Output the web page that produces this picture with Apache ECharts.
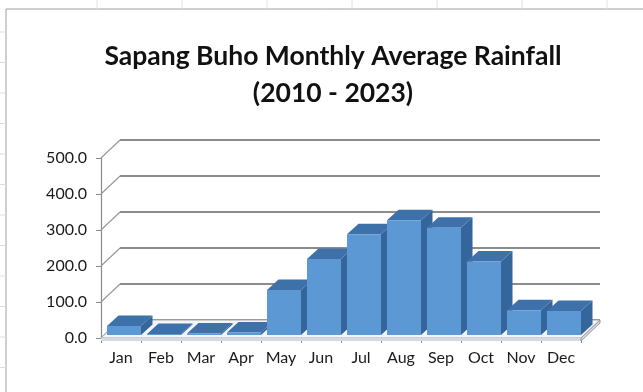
<!DOCTYPE html>
<html>
<head>
<meta charset="utf-8">
<script src="https://cdn.jsdelivr.net/npm/echarts@6.0.0/dist/echarts.min.js"></script>
<style>
  html, body { margin: 0; padding: 0; background: #ffffff; }
  #chart { width: 643px; height: 392px; }
</style>
</head>
<body>
<div id="chart"></div>
<script>
// Monthly average rainfall, Sapang Buho, 2010 - 2023
const months = ['Jan', 'Feb', 'Mar', 'Apr', 'May', 'Jun', 'Jul', 'Aug', 'Sep', 'Oct', 'Nov', 'Dec'];
const rainfall = [25, 3, 4, 7, 125, 211, 280, 319, 298, 204, 69, 67];
const yTicks = [0, 100, 200, 300, 400, 500];
const titleLines = ['Sapang Buho Monthly Average Rainfall', '(2010 - 2023)'];

// oblique projection offsets (pixels)
const WALL = [19, -18];        // front plane -> back wall
const BAR_SET = [3, -3];       // front plane -> front face of the columns
const BAR_DEPTH = [11.5, -10.5];
const SLAB = 3;                // floor thickness

const FONT = 'Lato, "Open Sans", "Liberation Sans", sans-serif';
const AXIS_GRAY = '#8a8a8a';

const chart = echarts.init(document.getElementById('chart'), null, { renderer: 'canvas' });

function renderColumn(params, api) {
  const i = api.value(0);
  const v = api.value(1);
  const base = api.coord([i, 0]);
  const top = api.coord([i, v]);
  const catW = api.size([1, 0])[0];
  const bw = catW * 0.85;
  const x0 = base[0] - bw / 2 + BAR_SET[0];
  const yb = base[1] + BAR_SET[1];
  const yt = top[1] + BAR_SET[1];
  const [dx, dy] = BAR_DEPTH;
  return {
    type: 'group',
    children: [
      {
        type: 'polygon',
        shape: { points: [[x0 + bw, yt], [x0 + bw, yb], [x0 + bw + dx, yb + dy], [x0 + bw + dx, yt + dy]] },
        style: { fill: '#34659b' }
      },
      {
        type: 'polygon',
        shape: { points: [[x0, yt], [x0 + bw, yt], [x0 + bw + dx, yt + dy], [x0 + dx, yt + dy]] },
        style: { fill: '#3e71a9' }
      },
      {
        type: 'rect',
        shape: { x: x0, y: yt, width: bw, height: yb - yt },
        style: { fill: '#5b98d4' }
      }
    ]
  };
}

function renderSideLine(params, api) {
  const p = api.coord([0, api.value(1)]);
  const x = params.coordSys.x;
  return {
    type: 'line',
    shape: { x1: x, y1: p[1], x2: x + WALL[0], y2: p[1] + WALL[1] },
    style: { stroke: '#9a9a9a', lineWidth: 1.2 }
  };
}

function renderFloor(params, api) {
  const cs = params.coordSys;
  const y = api.coord([0, 0])[1];
  const xl = cs.x, xr = cs.x + cs.width;
  const [wx, wy] = WALL;
  return {
    type: 'group',
    children: [
      {
        type: 'polygon',
        shape: { points: [[xl, y], [xr, y], [xr + wx, y + wy], [xl + wx, y + wy]] },
        style: { fill: '#f3f5f8', stroke: '#a9a9a9', lineWidth: 1 }
      },
      {
        type: 'rect',
        shape: { x: xl, y: y, width: xr - xl, height: SLAB },
        style: { fill: '#d3dce6' }
      },
      {
        type: 'polygon',
        shape: { points: [[xr, y], [xr + wx, y + wy], [xr + wx, y + wy + SLAB], [xr, y + SLAB]] },
        style: { fill: '#d3dce6', stroke: '#9a9a9a', lineWidth: 1 }
      }
    ]
  };
}

// faint worksheet cell lines around the chart frame
const sheetMarks = [];
for (let y = 32; y < 392; y += 30.5) {
  sheetMarks.push({ type: 'line', shape: { x1: 0, y1: y, x2: 6, y2: y }, style: { stroke: '#dcdcdc', lineWidth: 1 }, silent: true });
}
for (let x = 97; x < 643; x += 85) {
  sheetMarks.push({ type: 'line', shape: { x1: x, y1: 0, x2: x, y2: 9 }, style: { stroke: '#e2e2e2', lineWidth: 1 }, silent: true });
}

const option = {
  animation: false,
  backgroundColor: '#ffffff',
  title: {
    text: titleLines.join('\n'),
    left: 328,
    top: 33,
    textAlign: 'center',
    textStyle: {
      fontFamily: FONT,
      fontWeight: 'bold',
      fontSize: 26.5,
      lineHeight: 37,
      color: '#111111'
    }
  },
  grid: [
    { left: 101, top: 158, width: 480, height: 180 },
    { left: 101 + WALL[0], top: 158 + WALL[1], width: 480, height: 180 }
  ],
  xAxis: [
    {
      type: 'category',
      gridIndex: 0,
      data: months,
      offset: SLAB - 1,
      axisLine: { lineStyle: { color: AXIS_GRAY, width: 1.2 } },
      axisTick: { show: true, length: 5, lineStyle: { color: AXIS_GRAY } },
      axisLabel: { fontFamily: FONT, fontSize: 16, color: '#1a1a1a', margin: 10 }
    },
    {
      type: 'category',
      gridIndex: 1,
      data: months,
      show: false
    }
  ],
  yAxis: [
    {
      type: 'value',
      gridIndex: 0,
      min: 0,
      max: 500,
      interval: 100,
      axisLine: { show: true, lineStyle: { color: AXIS_GRAY, width: 1.2 } },
      axisTick: { show: true, length: 5, lineStyle: { color: AXIS_GRAY } },
      axisLabel: {
        fontFamily: FONT, fontSize: 16, color: '#1a1a1a', margin: 14,
        formatter: v => v.toFixed(1)
      },
      splitLine: { show: false }
    },
    {
      type: 'value',
      gridIndex: 1,
      min: 0,
      max: 500,
      interval: 100,
      axisLine: { show: false },
      axisTick: { show: false },
      axisLabel: { show: false },
      splitLine: { show: true, lineStyle: { color: '#8c8c8c', width: 2 } }
    }
  ],
  series: [
    {
      type: 'custom',
      name: 'side wall',
      xAxisIndex: 0,
      yAxisIndex: 0,
      z: 1,
      silent: true,
      renderItem: renderSideLine,
      data: yTicks.map(v => [0, v])
    },
    {
      type: 'custom',
      name: 'floor',
      xAxisIndex: 0,
      yAxisIndex: 0,
      z: 2,
      silent: true,
      renderItem: renderFloor,
      data: [[0, 0]]
    },
    {
      type: 'custom',
      name: 'Rainfall',
      xAxisIndex: 0,
      yAxisIndex: 0,
      z: 5,
      renderItem: renderColumn,
      data: rainfall.map((v, i) => [i, v])
    }
  ],
  graphic: [
    {
      type: 'polyline',
      shape: { points: [[6, 392], [6, 9], [643, 9]] },
      style: { stroke: '#a0a0a0', lineWidth: 1, fill: null },
      silent: true
    },
    ...sheetMarks
  ]
};

chart.setOption(option);
</script>
</body>
</html>
